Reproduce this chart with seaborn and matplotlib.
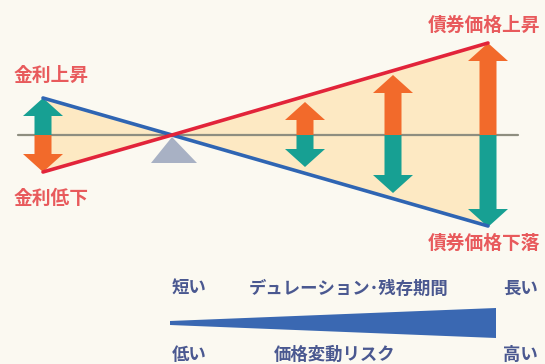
import numpy as np
import matplotlib
matplotlib.use('Agg')
import matplotlib.pyplot as plt
import seaborn as sns

# diagram values, in pixel units of the 545x364 picture
line_x = [43, 172, 488]
rate_line = [98, 135, 226]    # blue line (rate up -> price down)
price_line = [172, 135, 43]   # red line (price up)
base_y = 135

arrow_x = [43, 305, 393, 488]
arrow_top = [98, 102, 75, 43]
arrow_bottom = [172, 167, 193, 227]
top_colors = ['#17a093', '#f26a2b', '#f26a2b', '#f26a2b']
bottom_colors = ['#f26a2b', '#17a093', '#17a093', '#17a093']

side_labels = ['金利上昇', '金利低下', '債券価格上昇', '債券価格下落']
scale_top = ['短い', 'デュレーション･残存期間', '長い']
scale_bottom = ['低い', '価格変動リスク', '高い']

sns.set_theme(style='white')
plt.rcParams['font.family'] = ['Noto Sans CJK JP', 'DejaVu Sans']

bg = '#fbf9f1'
fig = plt.figure(figsize=(5.45, 3.64), dpi=100, facecolor=bg)
ax = fig.add_axes([0, 0, 1, 1])
ax.set_facecolor(bg)
ax.set_xlim(0, 545)
ax.set_ylim(364, 0)
ax.axis('off')

# shaded region between the lines
ax.fill_between(line_x, price_line, rate_line, color='#fde9c3', lw=0, zorder=1)
ax.plot([18, 518], [base_y, base_y], color='#8e8e80', lw=1.6, zorder=2)

# pivot triangle
ax.fill([172, 151, 197], [137, 163, 163], color='#a8b1c4', lw=0, zorder=2)

for x, t, b, ct, cb in zip(arrow_x, arrow_top, arrow_bottom, top_colors, bottom_colors):
    ax.arrow(x, base_y, 0, t - base_y, width=17, head_width=40, head_length=18,
             length_includes_head=True, color=ct, lw=0, zorder=3)
    ax.arrow(x, base_y, 0, b - base_y, width=17, head_width=40, head_length=18,
             length_includes_head=True, color=cb, lw=0, zorder=3)

sns.lineplot(x=line_x, y=rate_line, ax=ax, color='#2f65b3', lw=2.6, zorder=4)
sns.lineplot(x=line_x, y=price_line, ax=ax, color='#e2243a', lw=2.6, zorder=4)

red_txt = '#e85a5c'
ax.text(51, 75, side_labels[0], color=red_txt, fontsize=13.5, fontweight='bold', ha='center', va='center')
ax.text(51, 198, side_labels[1], color=red_txt, fontsize=13.5, fontweight='bold', ha='center', va='center')
ax.text(484, 25, side_labels[2], color=red_txt, fontsize=13.5, fontweight='bold', ha='center', va='center')
ax.text(484, 243, side_labels[3], color=red_txt, fontsize=13.5, fontweight='bold', ha='center', va='center')

# duration / risk scale
ax.fill([170, 496, 496, 170], [321, 308, 338, 325], color='#3a68b2', lw=0)
navy = '#4a5890'
for txt, x in zip(scale_top, [189, 349, 520]):
    ax.text(x, 289, txt, color=navy, fontsize=12.5, fontweight='bold', ha='center', va='center')
for txt, x in zip(scale_bottom, [189, 335, 520]):
    ax.text(x, 355, txt, color=navy, fontsize=12.5, fontweight='bold', ha='center', va='center')

fig.savefig('out.png', dpi=100, facecolor=bg)
